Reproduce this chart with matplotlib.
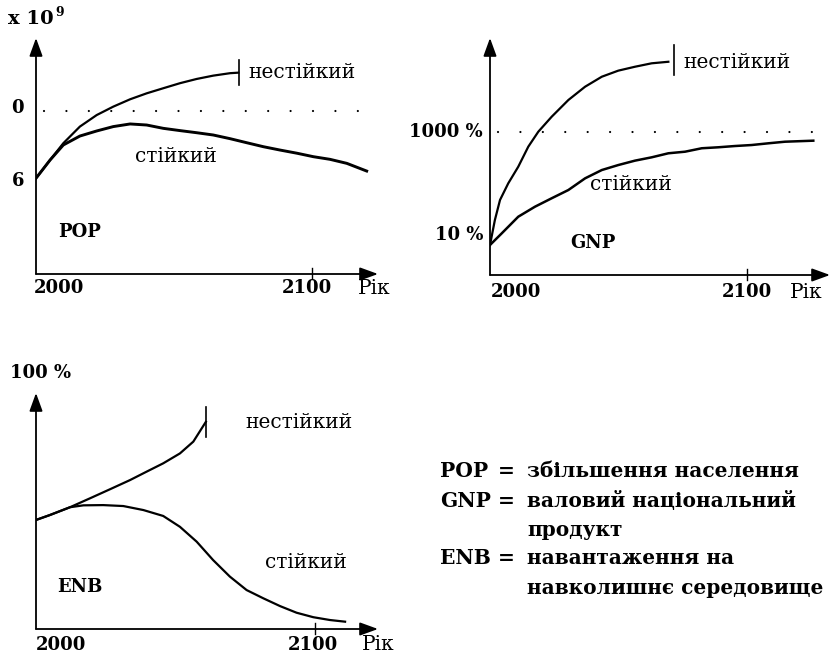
import matplotlib
matplotlib.use("Agg")
import matplotlib.pyplot as plt

plt.rcParams["lines.scale_dashes"] = False

W, H = 831, 657
SERIF = ["DejaVu Serif"]

# ---------------- data ----------------
# POP (billions)
pop_unst_year = [2000.0, 2005.1, 2009.9, 2015.9, 2022.0, 2028.0, 2034.1, 2040.1, 2046.1,
                 2052.2, 2058.2, 2064.2, 2070.3, 2073.3]
pop_unst_val = [6.10, 7.14, 8.10, 9.05, 9.71, 10.19, 10.61, 10.95, 11.24, 11.53, 11.77,
                11.96, 12.10, 12.13]
pop_stab_year = [2000.0, 2005.1, 2009.9, 2015.9, 2022.0, 2028.0, 2034.1, 2040.1, 2046.1,
                 2052.2, 2058.2, 2064.2, 2070.3, 2076.3, 2082.4, 2088.4, 2094.5, 2100.5,
                 2106.5, 2112.6, 2119.8]
pop_stab_val = [6.10, 7.14, 8.00, 8.51, 8.80, 9.05, 9.20, 9.14, 8.95, 8.82, 8.70, 8.57,
                8.36, 8.13, 7.90, 7.71, 7.53, 7.33, 7.18, 6.95, 6.51]
pop_end_year = 2073.7
pop_end_range = (11.43, 12.86)
pop_ref = 9.96
pop_ticks = [10.1, 5.95]
pop_ticklabels = ["0", "6"]

# GNP (%, log scale)
gnp_unst_year = [2000.0, 2001.9, 2003.9, 2007.1, 2011.0, 2014.9, 2018.8, 2024.0, 2030.5,
                 2037.0, 2043.5, 2049.9, 2056.4, 2062.9, 2069.4]
gnp_unst_val = [6.4, 19.5, 47.7, 100, 210, 513, 1000, 1950, 4110, 7430, 11600, 15200,
                18100, 21100, 22600]
gnp_stab_year = [2000.0, 2004.6, 2011.0, 2017.5, 2024.0, 2030.5, 2037.0, 2043.5, 2049.9,
                 2056.4, 2062.9, 2069.4, 2075.9, 2082.4, 2088.8, 2095.3, 2101.8, 2108.3,
                 2114.8, 2125.8]
gnp_stab_val = [6.4, 10.8, 22.6, 35.3, 51.4, 74.3, 125, 181, 226, 275, 319, 382, 410, 478,
                499, 528, 552, 596, 640, 670]
gnp_end_year = 2071.7
gnp_end_range = (12500, 47800)
gnp_ref = 1000
gnp_ticks = [1000, 10]
gnp_ticklabels = ["1000 %", "10 %"]

# ENB (% of axis height)
enb_unst_year = [2000.0, 2005.0, 2012.2, 2019.4, 2026.5, 2033.7, 2039.7, 2045.6, 2051.6,
                 2056.4, 2060.9]
enb_unst_val = [46.2, 48.3, 51.6, 55.4, 59.2, 63.1, 66.7, 70.2, 74.4, 79.4, 87.8]
enb_stab_year = [2000.0, 2005.0, 2012.2, 2017.0, 2024.1, 2031.3, 2038.5, 2045.6, 2051.6,
                 2057.6, 2063.5, 2069.5, 2075.5, 2081.5, 2087.5, 2093.4, 2099.4, 2105.4,
                 2110.8]
enb_stab_val = [46.2, 48.3, 51.6, 52.4, 52.5, 52.1, 50.4, 47.9, 43.3, 37.0, 29.2, 22.2,
                16.5, 13.0, 9.7, 6.9, 5.0, 3.8, 3.1]
enb_end_year = 2060.9
enb_end_range = (81.5, 94.2)

year_labels = ["2000", "2100"]

legend_keys = ["POP", "GNP", "", "ENB", ""]
legend_texts = ["збільшення населення", "валовий національний", "продукт",
                "навантаження на", "навколишнє середовище"]

# ---------------- figure ----------------
fig = plt.figure(figsize=(W / 100, H / 100), dpi=100)


def px_axes(left, top, right, bottom):
    return fig.add_axes([left / W, 1 - bottom / H, (right - left) / W, (bottom - top) / H])


def ftext(x, y, s, **kw):
    kw.setdefault("family", SERIF)
    kw.setdefault("va", "center")
    fig.text(x / W, 1 - y / H, s, **kw)


def arrow_axes(ax):
    for sp in ax.spines.values():
        sp.set_visible(False)
    ax.set_yticks([])
    ax.set_xticks([])
    ap = dict(arrowstyle="-|>,head_length=0.55,head_width=0.2", lw=1.3, color="black",
              shrinkA=0, shrinkB=0, mutation_scale=20)
    ax.annotate("", xy=(1, 0), xytext=(0, 0), xycoords="axes fraction", arrowprops=ap)
    ax.annotate("", xy=(0, 1), xytext=(0, 0), xycoords="axes fraction", arrowprops=ap)
    ax.patch.set_visible(False)


def tick2100(ax):
    ax.plot([2100, 2100], [-0.02, 0.025], transform=ax.get_xaxis_transform(), color="black",
            lw=1.0, clip_on=False)


DOTS = (0, (0.01, 16.13))
LW = 1.6
FS = 14.5
NFS = 13
PFS = 13

# Panel POP
ax1 = px_axes(36, 38, 378, 274)
ax1.set_xlim(2000, 2123.9)
ax1.set_ylim(0.63, 14.11)
arrow_axes(ax1)
ax1.plot(pop_unst_year, pop_unst_val, color="black", lw=LW)
ax1.plot(pop_stab_year, pop_stab_val, color="black", lw=LW + 0.5)
ax1.plot([pop_end_year] * 2, pop_end_range, color="black", lw=1.2)
ax1.plot([2002.9, 2116.9], [pop_ref] * 2, color="black", lw=1.6, linestyle=DOTS,
         dash_capstyle="round")
tick2100(ax1)
for v, lab in zip(pop_ticks, pop_ticklabels):
    ax1.text(-0.053, v, lab, transform=ax1.get_yaxis_transform(), ha="center", va="center",
             family=SERIF, fontsize=NFS, fontweight="bold")

ftext(8, 19, "x 10", fontsize=14, fontweight="bold")
ftext(55, 13, "9", fontsize=9, fontweight="bold")
ftext(248, 73, "нестійкий", fontsize=FS)
ftext(135, 157, "стійкий", fontsize=FS)
ftext(58, 232, "POP", fontsize=PFS, fontweight="bold")
ftext(59, 288, year_labels[0], fontsize=NFS, fontweight="bold", ha="center")
ftext(307, 288, year_labels[1], fontsize=NFS, fontweight="bold", ha="center")
ftext(358, 288, "Рік", fontsize=FS)

# Panel GNP
ax2 = px_axes(490, 38, 830, 275)
ax2.set_yscale("log")
ax2.set_xlim(2000, 2132.3)
ax2.set_ylim(1.68, 65200)
arrow_axes(ax2)
ax2.minorticks_off()
ax2.set_yticks([])
ax2.plot(gnp_unst_year, gnp_unst_val, color="black", lw=LW)
ax2.plot(gnp_stab_year, gnp_stab_val, color="black", lw=LW + 0.2)
ax2.plot([gnp_end_year] * 2, gnp_end_range, color="black", lw=1.2)
ax2.plot([2003.2, 2125.8], [gnp_ref] * 2, color="black", lw=1.6, linestyle=DOTS,
         dash_capstyle="round")
tick2100(ax2)
for v, lab in zip(gnp_ticks, gnp_ticklabels):
    ax2.text(-0.02, v, lab, transform=ax2.get_yaxis_transform(), ha="right", va="center",
             family=SERIF, fontsize=NFS, fontweight="bold")

ftext(683, 63, "нестійкий", fontsize=FS)
ftext(590, 185, "стійкий", fontsize=FS)
ftext(570, 243, "GNP", fontsize=PFS, fontweight="bold")
ftext(516, 292, year_labels[0], fontsize=NFS, fontweight="bold", ha="center")
ftext(747, 292, year_labels[1], fontsize=NFS, fontweight="bold", ha="center")
ftext(790, 292, "Рік", fontsize=FS)

# Panel ENB
ax3 = px_axes(36, 393, 378, 629)
ax3.set_xlim(2000, 2122.6)
ax3.set_ylim(0, 100)
arrow_axes(ax3)
ax3.plot(enb_unst_year, enb_unst_val, color="black", lw=LW)
ax3.plot(enb_stab_year, enb_stab_val, color="black", lw=LW)
ax3.plot([enb_end_year] * 2, enb_end_range, color="black", lw=1.2)
tick2100(ax3)

ftext(10, 373, "100 %", fontsize=NFS, fontweight="bold")
ftext(245, 423, "нестійкий", fontsize=FS)
ftext(265, 563, "стійкий", fontsize=FS)
ftext(57, 587, "ENB", fontsize=PFS, fontweight="bold")
ftext(61, 645, year_labels[0], fontsize=NFS, fontweight="bold", ha="center")
ftext(313, 645, year_labels[1], fontsize=NFS, fontweight="bold", ha="center")
ftext(362, 645, "Рік", fontsize=FS)

# Legend text
ys = [471, 501, 530, 558, 588]
for k, t, y in zip(legend_keys, legend_texts, ys):
    if k:
        ftext(440, y, k, fontsize=FS, fontweight="bold")
        ftext(506, y, "=", fontsize=FS, fontweight="bold", ha="center")
    ftext(527, y, t, fontsize=FS, fontweight="bold")

fig.savefig("out.png", dpi=100)
